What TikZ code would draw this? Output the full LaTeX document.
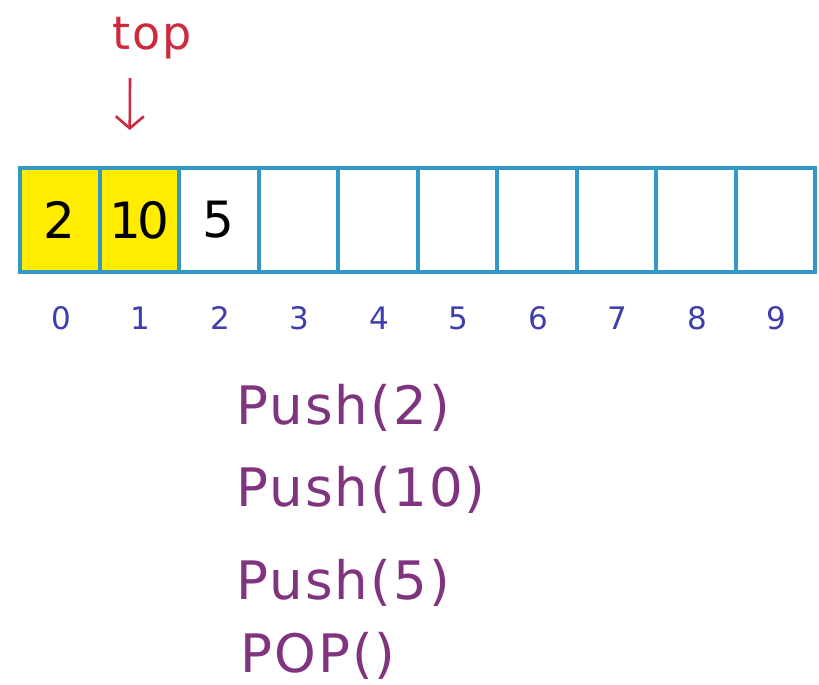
\documentclass[tikz,border=0pt]{standalone}
\usepackage{fontspec}
\setmainfont{DejaVu Sans}
\newfontfamily\handfont[LetterSpace=4]{DejaVu Sans}
\usetikzlibrary{arrows.meta,positioning}

\definecolor{cellline}{RGB}{52,152,196}
\definecolor{topyellow}{RGB}{255,236,0}
\definecolor{idxblue}{RGB}{62,62,172}
\definecolor{oppurple}{RGB}{128,52,128}
\definecolor{topred}{RGB}{206,42,62}

\tikzset{
  cell/.style={draw=cellline, line width=4pt, minimum width=79.5pt,
    minimum height=104pt, inner sep=0pt, font=\fontsize{50}{54}\selectfont},
  idx/.style={text=idxblue, inner sep=0pt, font=\fontsize{31}{34}\selectfont},
  opline/.style={text=oppurple, anchor=west, inner sep=0pt,
    font=\handfont\fontsize{53}{58}\selectfont},
  toparrow/.style={draw=topred, line width=2.6pt,
    -{Straight Barb[length=12pt,width=28pt]}},
}

\begin{document}
\begin{tikzpicture}[x=1pt,y=-1pt]
    \useasboundingbox[fill=white] (0,0) rectangle (819,685);
    % ---- array of ten cells ----
    \foreach \i/\val/\col in {0/2/topyellow,1/{1\kern-4pt0}/topyellow,2/5/white,
        3//white,4//white,5//white,6//white,7//white,8//white,9//white}{
      \node[cell, fill=\col] (c\i) at ({59.75+79.5*\i},220) {\val};}
    % ---- indices below ----
    \foreach \i in {0,...,9}{
      \node[idx] (i\i) at ({61+79.5*\i},318) {\i};}
    % ---- top pointer ----
    \node[text=topred, font=\handfont\fontsize{46}{50}\selectfont] (toplbl) at (152,38) {top};
    \coordinate (arrtail) at (130,78);
    \draw[toparrow] (arrtail) -- ([xshift=-9.5pt,yshift=36pt]c1.north);
    % ---- operations ----
    \node[opline] (op1) at (236,408) {Push(2)};
    \node[opline] (op2) at (236,490) {Push(10)};
    \node[opline] (op3) at (236,583) {Push(5)};
    \node[opline] (op4) at (240,656) {POP()};
\end{tikzpicture}
\end{document}
